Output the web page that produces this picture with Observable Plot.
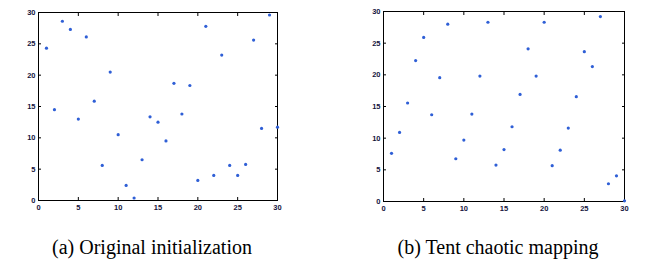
<!DOCTYPE html>
<html>
<head>
<meta charset="utf-8">
<script src="https://cdn.jsdelivr.net/npm/d3@7"></script>
<script src="https://cdn.jsdelivr.net/npm/@observablehq/plot@0.6"></script>
<style>
  html, body { margin: 0; padding: 0; background: #fff; }
  #wrap { position: relative; width: 668px; height: 273px; background: #fff; overflow: hidden; }
  .panel { position: absolute; top: 0; }
  .cap { position: absolute; top: 236px; font-family: "Liberation Serif", "Times New Roman", serif; font-size: 20px; color: #000; white-space: nowrap; transform: translateX(-50%); }
</style>
</head>
<body>
<div id="wrap">
  <div class="panel" id="pa" style="left:0px"></div>
  <div class="panel" id="pb" style="left:340px"></div>
  <div class="cap" style="left:152px">(a) Original initialization</div>
  <div class="cap" style="left:498px">(b) Tent chaotic mapping</div>
</div>
<script>
const indices = d3.range(1, 31);
const originalValues = [24.3, 14.5, 28.6, 27.3, 13.0, 26.1, 15.85, 5.6, 20.5, 10.5,
  2.4, 0.4, 6.5, 13.35, 12.5, 9.5, 18.7, 13.8, 18.35, 3.2,
  27.8, 4.0, 23.2, 5.6, 4.0, 5.75, 25.6, 11.5, 29.6, 11.7];
const tentValues = [7.6, 10.9, 15.55, 22.25, 25.9, 13.7, 19.55, 28.0, 6.75, 9.7,
  13.8, 19.8, 28.3, 5.75, 8.2, 11.8, 16.9, 24.1, 19.8, 28.3,
  5.65, 8.1, 11.6, 16.55, 23.65, 21.3, 29.2, 2.8, 4.05, 0.1];
const tickValues = [0, 5, 10, 15, 20, 25, 30];

function panel(values, opts) {
  const data = indices.map((i, k) => ({x: i, y: values[k]}));
  const axisStyle = {tickSize: -3, tickPadding: 6, ticks: tickValues, label: null, fill: "#14143c"};
  return Plot.plot({
    width: opts.width,
    height: 215,
    marginLeft: opts.ml,
    marginRight: opts.mr,
    marginTop: opts.mt,
    marginBottom: opts.mb,
    style: {fontFamily: "Liberation Sans, Arial, sans-serif", fontSize: "7.5px", fontWeight: "bold", background: "transparent", overflow: "visible"},
    x: {domain: [0, 30]},
    y: {domain: [0, 30]},
    marks: [
      Plot.axisX({...axisStyle, anchor: "bottom", tickPadding: 7}),
      Plot.axisX({...axisStyle, anchor: "top", tickFormat: () => ""}),
      Plot.axisY({...axisStyle, anchor: "left"}),
      Plot.axisY({...axisStyle, anchor: "right", tickFormat: () => ""}),
      Plot.frame({stroke: "#000", strokeWidth: 1}),
      Plot.dot(data, {x: "x", y: "y", r: 1.6, fill: "#2f5fd6", stroke: "none"})
    ]
  });
}

document.getElementById("pa").appendChild(panel(originalValues, {width: 290, ml: 38, mr: 13, mt: 12, mb: 15}));
document.getElementById("pb").appendChild(panel(tentValues, {width: 300, ml: 43, mr: 16, mt: 11, mb: 14}));
</script>
</body>
</html>
